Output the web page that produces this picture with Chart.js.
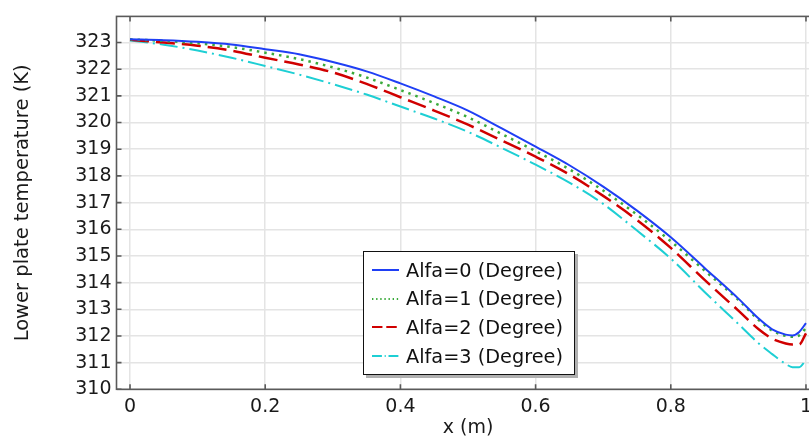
<!DOCTYPE html>
<html>
<head>
<meta charset="utf-8">
<script src="https://cdn.jsdelivr.net/npm/chart.js"></script>
<style>
    body { margin: 0; overflow: hidden; background: #fff; }
    #wrap { position: relative; width: 830px; height: 442px; }
    #legend {
        position: absolute; left: 363px; top: 251px; width: 212px; height: 124px;
        border: 1px solid #111; background: #fff; box-shadow: 3px 3px 0 #b0b0b0;
        font-family: "DejaVu Sans", sans-serif; font-size: 19.3px; color: #111;
        box-sizing: border-box; padding-top: 4px;
    }
    #legend .row { height: 28.6px; display: flex; align-items: center; padding-left: 8px; }
    #legend canvas { margin-right: 7px; }
</style>
</head>
<body>
<div id="wrap">
    <canvas id="chart" width="830" height="442"></canvas>
    <div id="legend"></div>
</div>
<script>
    // x positions (m)
    const xs = [0, 0.05, 0.1, 0.15, 0.2, 0.25, 0.3, 0.35, 0.4, 0.45, 0.5, 0.55, 0.6,
        0.65, 0.7, 0.75, 0.8, 0.85, 0.9, 0.93, 0.95, 0.97, 0.98, 0.99, 1.0];

    // lower plate temperature (K) for each angle
    const alfa0 = [323.12, 323.09, 323.03, 322.93, 322.75, 322.56, 322.27, 321.92, 321.47, 320.98, 320.45, 319.78, 319.1,
        318.4, 317.6, 316.7, 315.7, 314.55, 313.4, 312.65, 312.25, 312.05, 312.02, 312.15, 312.48];
    const alfa1 = [323.12, 323.06, 322.97, 322.83, 322.62, 322.38, 322.07, 321.69, 321.22, 320.73, 320.2, 319.57, 318.93,
        318.25, 317.45, 316.55, 315.55, 314.45, 313.35, 312.6, 312.2, 312.0, 311.97, 312.02, 312.3];
    const alfa2 = [323.1, 323.0, 322.88, 322.7, 322.43, 322.18, 321.88, 321.45, 320.95, 320.45, 319.92, 319.33, 318.72,
        318.05, 317.25, 316.35, 315.3, 314.1, 312.95, 312.25, 311.9, 311.72, 311.68, 311.68, 312.1];
    const alfa3 = [323.08, 322.92, 322.7, 322.43, 322.12, 321.8, 321.44, 321.05, 320.6, 320.15, 319.65, 319.05, 318.42,
        317.75, 316.95, 315.95, 314.9, 313.65, 312.45, 311.72, 311.32, 310.95, 310.83, 310.83, 311.1];

    const seriesLabels = ['Alfa=0 (Degree)', 'Alfa=1 (Degree)', 'Alfa=2 (Degree)', 'Alfa=3 (Degree)'];
    const seriesColors = ['#1f3ff5', '#3aaa3a', '#d00000', '#1ecfd4'];
    const seriesDash = [[], [2.5, 5], [19, 7], [18, 5, 2, 5]];
    const seriesWidth = [2, 2.5, 2.5, 2];

    const FONT = '"DejaVu Sans", sans-serif';
    const TXT = '#1a1a1a';

    const toPoints = arr => arr.map((v, i) => ({x: xs[i], y: v}));

    // frame with small inward tick marks (COMSOL style)
    const framePlugin = {
        id: 'frame',
        afterDatasetsDraw(chart) {
            const {ctx, chartArea: a, scales} = chart;
            ctx.save();
            ctx.strokeStyle = '#5a5a5a';
            ctx.lineWidth = 1.6;
            ctx.strokeRect(a.left, a.top, a.right - a.left, a.bottom - a.top);
            ctx.beginPath();
            scales.x.ticks.forEach(t => {
                const px = scales.x.getPixelForValue(t.value);
                ctx.moveTo(px, a.bottom); ctx.lineTo(px, a.bottom - 5);
                ctx.moveTo(px, a.top); ctx.lineTo(px, a.top + 5);
            });
            scales.y.ticks.forEach(t => {
                const py = scales.y.getPixelForValue(t.value);
                ctx.moveTo(a.left, py); ctx.lineTo(a.left + 5, py);
            });
            ctx.stroke();
            ctx.restore();
        }
    };

    const chart = new Chart(document.getElementById('chart'), {
        type: 'line',
        data: {
            datasets: [alfa0, alfa1, alfa2, alfa3].map((arr, i) => ({
                label: seriesLabels[i],
                data: toPoints(arr),
                borderColor: seriesColors[i],
                borderWidth: seriesWidth[i],
                borderDash: seriesDash[i],
                pointRadius: 0,
                fill: false,
                cubicInterpolationMode: 'monotone'
            }))
        },
        options: {
            responsive: false,
            animation: false,
            layout: {padding: {left: 0, right: 10.5, top: 9, bottom: 0}},
            plugins: {legend: {display: false}, tooltip: {enabled: false}},
            scales: {
                x: {
                    type: 'linear',
                    min: -0.02,
                    max: 1.02,
                    afterFit: s => { s.height = 52.7; },
                    grid: {color: '#e4e4e4', lineWidth: 1.5, drawTicks: false},
                    border: {display: false},
                    ticks: {
                        stepSize: 0.2, includeBounds: false, padding: 6, maxRotation: 0,
                        color: TXT, font: {family: FONT, size: 19},
                        callback: v => String(+v.toFixed(2))
                    },
                    title: {display: true, text: 'x (m)', color: TXT,
                        font: {family: FONT, size: 19}, padding: {top: 0, bottom: 2.5}}
                },
                y: {
                    min: 310,
                    max: 323.98,
                    afterFit: s => { s.width = 116.5; },
                    grid: {color: '#e4e4e4', lineWidth: 1.5, drawTicks: false},
                    border: {display: false},
                    ticks: {
                        stepSize: 1, includeBounds: false, padding: 5,
                        color: TXT, font: {family: FONT, size: 19}
                    },
                    title: {display: true, text: 'Lower plate temperature (K)', color: TXT,
                        font: {family: FONT, size: 19.5}, padding: {top: 11, bottom: 0}}
                }
            }
        },
        plugins: [framePlugin]
    });

    // legend box floating inside the plot
    const legendEl = document.getElementById('legend');
    chart.data.datasets.forEach(ds => {
        const row = document.createElement('div');
        row.className = 'row';
        const sample = document.createElement('canvas');
        sample.width = 27; sample.height = 6;
        const c = sample.getContext('2d');
        c.strokeStyle = ds.borderColor;
        c.lineWidth = Math.min(ds.borderWidth, 2);
        c.setLineDash(ds.borderDash.map(d => d * 0.55));
        c.beginPath(); c.moveTo(0, 3); c.lineTo(27, 3); c.stroke();
        const label = document.createElement('span');
        label.textContent = ds.label;
        row.appendChild(sample);
        row.appendChild(label);
        legendEl.appendChild(row);
    });
</script>
</body>
</html>
